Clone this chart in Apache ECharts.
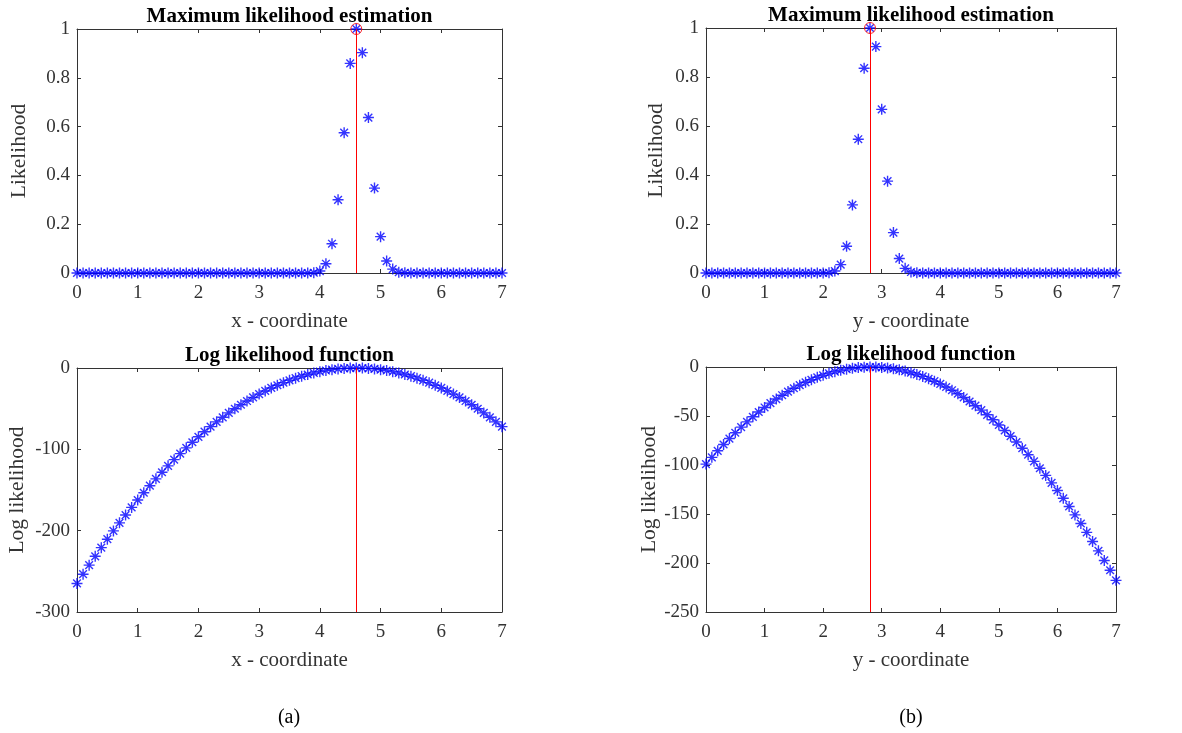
<!DOCTYPE html>
<html>
<head>
<meta charset="utf-8">
<title>Maximum likelihood estimation</title>
<script src="https://cdn.jsdelivr.net/npm/echarts@6/dist/echarts.min.js"></script>
<style>
  html, body { margin: 0; padding: 0; background: #ffffff; }
  #chart { width: 1182px; height: 733px; }
</style>
</head>
<body>
<div id="chart"></div>
<script>
// Candidate coordinates sampled every 0.1 between 0 and 7
const xGrid = [0,0.1,0.2,0.3,0.4,0.5,0.6,0.7,0.8,0.9,1,1.1,1.2,1.3,1.4,1.5,1.6,1.7,1.8,1.9,2,2.1,2.2,2.3,2.4,2.5,2.6,2.7,2.8,2.9,3,3.1,3.2,3.3,3.4,3.5,3.6,3.7,3.8,3.9,4,4.1,4.2,4.3,4.4,4.5,4.6,4.7,4.8,4.9,5,5.1,5.2,5.3,5.4,5.5,5.6,5.7,5.8,5.9,6,6.1,6.2,6.3,6.4,6.5,6.6,6.7,6.8,6.9,7];

// Normalised likelihood along x
const likelihoodX = [0,0,0,0,0,0,0,0,0,0, 0,0,0,0,0,0,0,0,0,0, 0,0,0,0,0,0,0,0,0,0, 0,0,0,0,0,0,0,0,0,0.001,
  0.008,0.038,0.12,0.30,0.575,0.859,1,0.903,0.637,0.348, 0.149,0.049,0.016,0.003,0.001,
  0,0,0,0,0,0,0,0,0,0,0,0,0,0,0,0];

// Normalised likelihood along y
const likelihoodY = [0,0,0,0,0,0,0,0,0,0, 0,0,0,0,0,0,0,0,0,0, 0,
  0.001,0.008,0.034,0.109,0.278,0.546,0.836,1,0.924,0.668,0.375,0.165,0.059,0.019,0.004,0.001,
  0,0,0,0,0,0,0,0,0,0, 0,0,0,0,0,0,0,0,0,0, 0,0,0,0,0,0,0,0,0,0, 0,0,0,0];

// Log likelihood along x
const logLikelihoodX = [-264.9,-253.5,-242.4,-231.5,-220.9,-210.5,-200.3,-190.4,-180.8,-171.4,
  -162.3,-153.4,-144.7,-136.3,-128.2,-120.3,-112.7,-105.3,-98.2,-91.3,
  -84.6,-78.3,-72.1,-66.2,-60.6,-55.2,-50.1,-45.2,-40.6,-36.2,
  -32.1,-28.2,-24.5,-21.2,-18.0,-15.1,-12.5,-10.1,-8.0,-6.1,
  -4.5,-3.1,-2.0,-1.1,-0.5,-0.1,0,-0.1,-0.5,-1.1,
  -2.0,-3.1,-4.5,-6.1,-8.0,-10.1,-12.5,-15.1,-18.0,-21.2,
  -24.5,-28.2,-32.1,-36.2,-40.6,-45.2,-50.1,-55.2,-60.6,-66.2,-72.1];

// Log likelihood along y
const logLikelihoodY = [-99.1,-92.2,-85.5,-79.1,-73.0,-67.1,-61.4,-56.0,-50.8,-45.9,
  -41.3,-36.9,-32.7,-28.8,-25.1,-21.7,-18.5,-15.6,-13.0,-10.5,
  -8.4,-6.5,-4.8,-3.4,-2.2,-1.3,-0.6,-0.2,0,-0.1,
  -0.4,-1.0,-1.8,-2.9,-4.2,-5.8,-7.6,-9.6,-12.0,-14.5,
  -17.3,-20.4,-23.7,-27.3,-31.1,-35.2,-39.5,-44.0,-48.8,-53.9,
  -59.2,-64.8,-70.6,-76.6,-82.9,-89.5,-96.3,-103.3,-110.6,-118.2,
  -126.0,-134.0,-142.3,-150.9,-159.7,-168.7,-178.0,-187.6,-197.4,-207.4,-217.7];

// Text
const panelTitles = ['Maximum likelihood estimation', 'Maximum likelihood estimation',
                     'Log likelihood function', 'Log likelihood function'];
const xAxisNames = ['x - coordinate', 'y - coordinate', 'x - coordinate', 'y - coordinate'];
const yAxisNames = ['Likelihood', 'Likelihood', 'Log likelihood', 'Log likelihood'];
const captions = ['(a)', '(b)'];

// Value-axis ranges [min, max, interval]
const xRange = [0, 7, 1];
const yRanges = [[0, 1, 0.2], [0, 1, 0.2], [-300, 0, 100], [-250, 0, 50]];

const SERIF = '"Liberation Serif", "Times New Roman", serif';
const AXIS_COLOR = '#333333';
const BLUE = '#0000ff';
const RED = '#ff0000';
const STAR = 'path://M5,0L5,10M0,5L10,5M1.5,1.5L8.5,8.5M8.5,1.5L1.5,8.5';

// Plot boxes in pixels
const boxes = [
  { left: 77,  top: 29,  width: 425, height: 244 },
  { left: 706, top: 28,  width: 410, height: 245 },
  { left: 77,  top: 368, width: 425, height: 244 },
  { left: 706, top: 367, width: 410, height: 245 }
];
const yNameGaps = [47, 39, 49, 45];

const values = [likelihoodX, likelihoodY, logLikelihoodX, logLikelihoodY];

function peakIndex(arr) {
  let best = 0;
  arr.forEach((v, i) => { if (v > arr[best]) best = i; });
  return best;
}
const peakX = xGrid[peakIndex(likelihoodX)];
const peakY = xGrid[peakIndex(likelihoodY)];
const peaks = [peakX, peakY, peakX, peakY];

const grids = [], xAxes = [], yAxes = [], series = [], titles = [];

boxes.forEach((b, g) => {
  grids.push({ left: b.left, top: b.top, width: b.width, height: b.height, containLabel: false });

  const tick = { show: true, inside: true, length: 4, lineStyle: { color: AXIS_COLOR, width: 1 } };
  const line = { show: true, onZero: false, lineStyle: { color: AXIS_COLOR, width: 1 } };
  const [ymin, ymax, yint] = yRanges[g];

  xAxes.push({
    type: 'value', gridIndex: g, position: 'bottom',
    min: xRange[0], max: xRange[1], interval: xRange[2],
    axisLine: line, axisTick: tick, splitLine: { show: false },
    axisLabel: { color: AXIS_COLOR, fontFamily: SERIF, fontSize: 19, margin: 11 },
    name: xAxisNames[g], nameLocation: 'middle', nameGap: 38,
    nameTextStyle: { color: AXIS_COLOR, fontFamily: SERIF, fontSize: 21 }
  });
  xAxes.push({
    type: 'value', gridIndex: g, position: 'top',
    min: xRange[0], max: xRange[1], interval: xRange[2],
    axisLine: line, axisTick: tick, splitLine: { show: false },
    axisLabel: { show: false }
  });
  yAxes.push({
    type: 'value', gridIndex: g, position: 'left',
    min: ymin, max: ymax, interval: yint,
    axisLine: line, axisTick: tick, splitLine: { show: false },
    axisLabel: { color: AXIS_COLOR, fontFamily: SERIF, fontSize: 19, margin: 7 },
    name: yAxisNames[g], nameLocation: 'middle', nameGap: yNameGaps[g], nameRotate: 90,
    nameTextStyle: { color: AXIS_COLOR, fontFamily: SERIF, fontSize: 21.5 }
  });
  yAxes.push({
    type: 'value', gridIndex: g, position: 'right',
    min: ymin, max: ymax, interval: yint,
    axisLine: line, axisTick: tick, splitLine: { show: false },
    axisLabel: { show: false }
  });

  // Estimate marker: vertical red line at the maximum
  series.push({
    type: 'scatter', xAxisIndex: 2 * g, yAxisIndex: 2 * g,
    data: [], silent: true, z: 1,
    markLine: {
      silent: true, symbol: 'none', animation: false,
      label: { show: false },
      lineStyle: { color: RED, width: 1, type: 'solid' },
      data: [{ xAxis: peaks[g] }]
    }
  });

  series.push({
    type: 'scatter', xAxisIndex: 2 * g, yAxisIndex: 2 * g,
    symbol: STAR, symbolSize: 11, clip: false, z: 3,
    itemStyle: { color: 'transparent', borderColor: BLUE, borderWidth: 1.4 },
    data: xGrid.map((x, i) => [x, values[g][i]]),
    animation: false
  });

  if (g < 2) {
    const src = values[g];
    const k = peakIndex(src);
    series.push({
      type: 'scatter', xAxisIndex: 2 * g, yAxisIndex: 2 * g,
      symbol: 'circle', symbolSize: 11, clip: false, z: 4,
      itemStyle: { color: 'transparent', borderColor: RED, borderWidth: 1 },
      data: [[xGrid[k], src[k]]],
      animation: false
    });
  }

  titles.push({
    text: panelTitles[g], left: b.left + b.width / 2, top: b.top - 23,
    textAlign: 'center', padding: 0,
    textStyle: { fontFamily: SERIF, fontSize: 21, fontWeight: 'bold', color: '#000000' }
  });
});

titles.push({
  text: captions[0], left: 289, top: 708, textAlign: 'center', padding: 0,
  textStyle: { fontFamily: SERIF, fontSize: 20, fontWeight: 'normal', color: '#000000' }
});
titles.push({
  text: captions[1], left: 911, top: 708, textAlign: 'center', padding: 0,
  textStyle: { fontFamily: SERIF, fontSize: 20, fontWeight: 'normal', color: '#000000' }
});

const chart = echarts.init(document.getElementById('chart'), null, { renderer: 'canvas' });
chart.setOption({
  animation: false,
  backgroundColor: '#ffffff',
  title: titles,
  grid: grids,
  xAxis: xAxes,
  yAxis: yAxes,
  series: series
});
</script>
</body>
</html>
